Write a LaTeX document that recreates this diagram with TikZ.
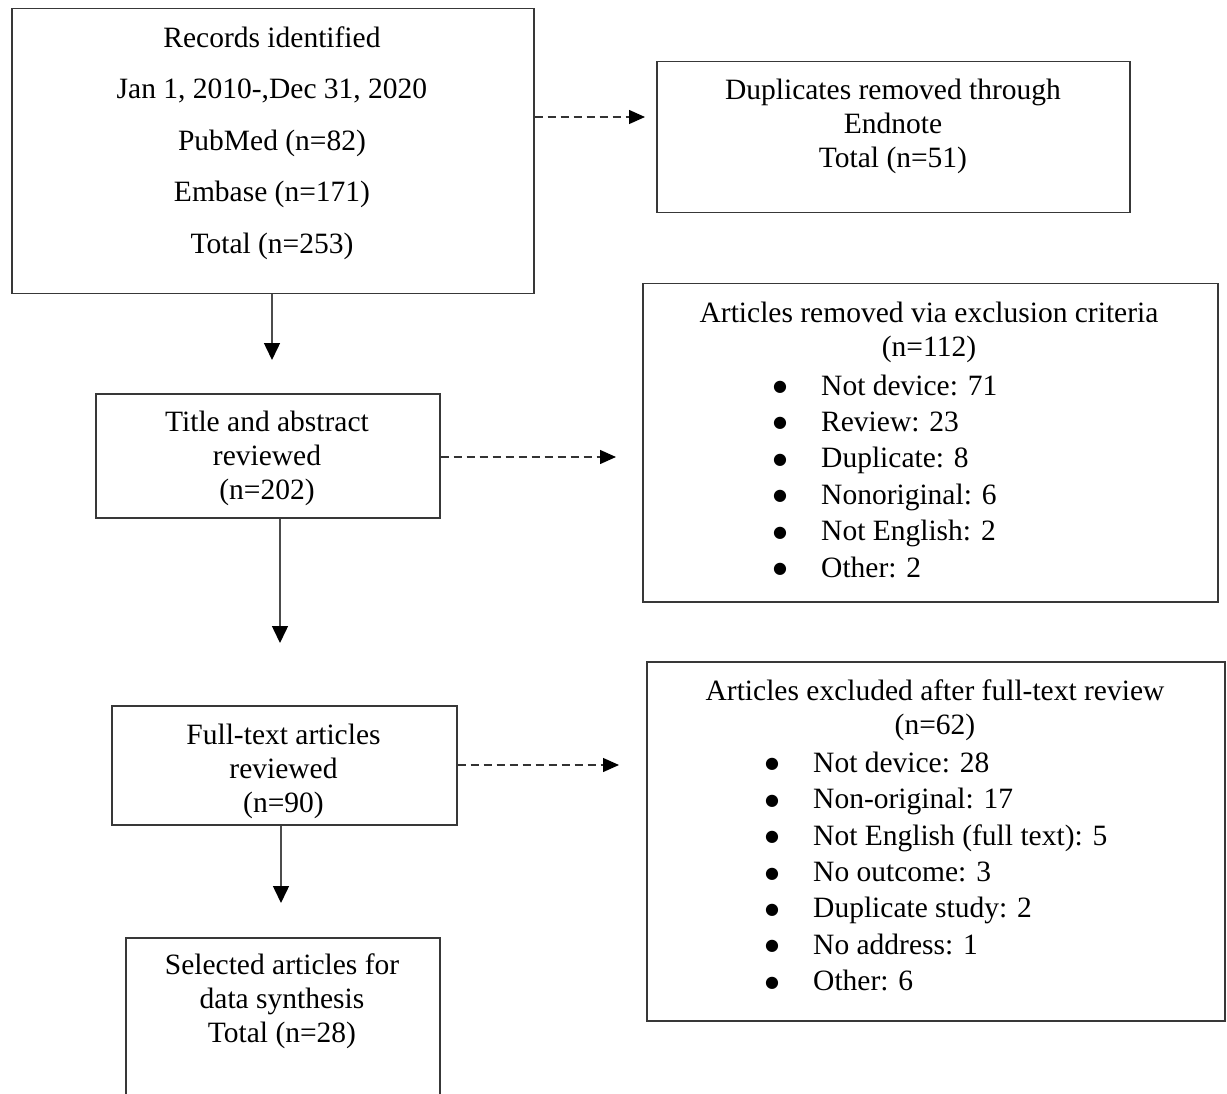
\documentclass[tikz,border=0pt]{standalone}
\usepackage{fontspec}
\setmainfont{Liberation Serif}
\newfontfamily\djfont{DejaVu Sans}
\usetikzlibrary{arrows.meta}
\newcommand{\bul}{\makebox[48pt][l]{\raisebox{3.5pt}{\djfont\fontsize{16}{16}\selectfont ●}}}
\begin{document}
\begin{tikzpicture}[x=1pt,y=-1pt,
  box/.style={draw=black!78, line width=1.5pt, inner sep=0pt, anchor=north west},
  txt/.style={align=center, inner sep=0pt, font=\fontsize{29.5}{34}\selectfont},
  lst/.style={align=left, inner sep=0pt, anchor=west, font=\fontsize{29.5}{36.4}\selectfont},
  arr/.style={draw=black!70, line width=1.5pt, -{Triangle[length=17pt,width=16pt,color=black]}},
  darr/.style={draw=black!80, line width=1.3pt, dash pattern=on 8pt off 5pt, -{Triangle[length=16pt,width=14pt,color=black]}}]
\path[use as bounding box, fill=white] (0,0) rectangle (1227,1094);
\clip (0,0) rectangle (1227,1094);
% boxes
\node[box, minimum width=522pt, minimum height=285pt] (b1) at (11,8) {};
\node[box, minimum width=473pt, minimum height=151pt] (b2) at (656,61) {};
\node[box, minimum width=344pt, minimum height=124pt] (b3) at (95,393) {};
\node[box, minimum width=575pt, minimum height=318pt] (b4) at (642,283) {};
\node[box, minimum width=345pt, minimum height=119pt] (b5) at (111,705) {};
\node[box, minimum width=578pt, minimum height=359pt] (b6) at (646,661) {};
\node[box, minimum width=314pt, minimum height=200pt] (b7) at (125,937) {};
% texts
\node[txt, font=\fontsize{29.5}{51.5}\selectfont] (t1) at (272,143) {Records identified\\Jan 1, 2010-,Dec 31, 2020\\PubMed (n=82)\\Embase (n=171)\\Total (n=253)};
\node[txt] (t2) at (893,126.5) {Duplicates removed through\\Endnote\\Total (n=51)};
\node[txt] (t3) at (267,458.5) {Title and abstract\\reviewed\\(n=202)};
\node[txt] (t4) at (929,332.5) {Articles removed via exclusion criteria\\(n=112)};
\node[lst] (l4) at (773,476) {\bul Not device: 71\\\bul Review: 23\\\bul Duplicate: 8\\\bul Nonoriginal: 6\\\bul Not English: 2\\\bul Other: 2};
\node[txt] (t5) at (283.5,771.5) {Full-text articles\\reviewed\\(n=90)};
\node[txt] (t6) at (935,710.5) {Articles excluded after full-text review\\(n=62)};
\node[lst] (l6) at (765,871.5) {\bul Not device: 28\\\bul Non-original: 17\\\bul Not English (full text): 5\\\bul No outcome: 3\\\bul Duplicate study: 2\\\bul No address: 1\\\bul Other: 6};
\node[txt] (t7) at (282,1001.5) {Selected articles for\\data synthesis\\Total (n=28)};
% connectors
\coordinate (a1e) at (272,360);
\coordinate (a2e) at (280,643);
\coordinate (a3e) at (281,903);
\coordinate (d1e) at (645,117);
\coordinate (d2e) at (616,457);
\coordinate (d3e) at (619,765);
\draw[arr] (b1.south -| a1e) -- (a1e);
\draw[arr] (b3.south -| a2e) -- (a2e);
\draw[arr] (b5.south -| a3e) -- (a3e);
\draw[darr] (b1.east |- d1e) -- (d1e);
\draw[darr] (b3.east |- d2e) -- (d2e);
\draw[darr] (b5.east |- d3e) -- (d3e);
\end{tikzpicture}
\end{document}
